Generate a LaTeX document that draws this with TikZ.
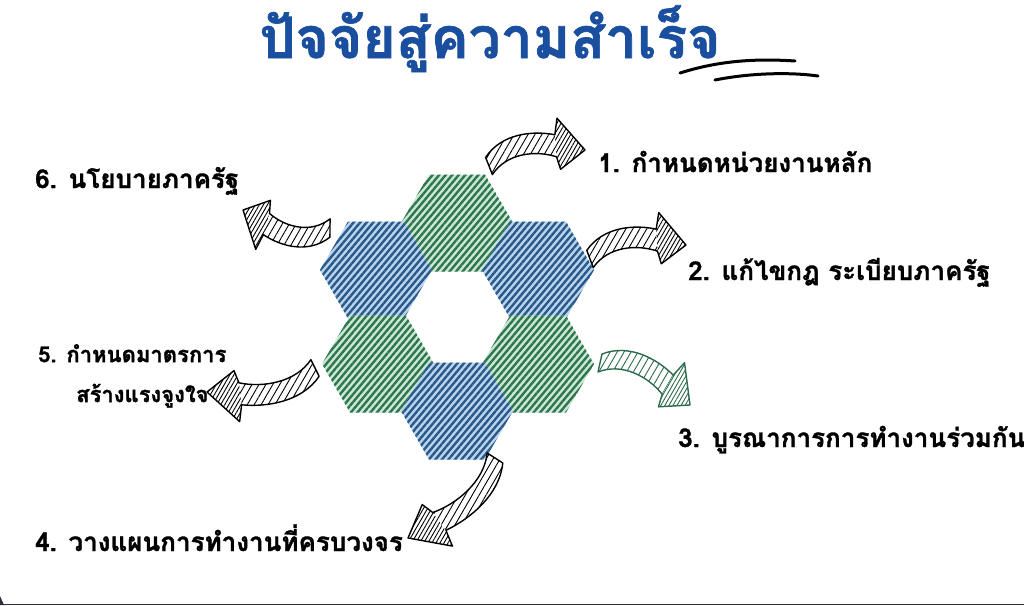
\documentclass[tikz,border=0pt]{standalone}
\usepackage{fontspec}
\newfontfamily\thai[Script=Thai, BoldFeatures={FakeBold=1.2}]{Loma}
\usetikzlibrary{patterns.meta,calc,shapes.geometric}
\definecolor{titleblue}{HTML}{1A4FA0}
\definecolor{greenlight}{HTML}{CDE8D4}
\definecolor{greendark}{HTML}{2E7650}
\definecolor{bluelight}{HTML}{BBD5EC}
\definecolor{bluedark}{HTML}{28598A}
\definecolor{arrgreen}{HTML}{2E6B4D}
\definecolor{edgedark}{HTML}{2B2F3A}
\tikzset{
  hexbase/.style={regular polygon, regular polygon sides=6, minimum size=112pt, inner sep=0pt, draw=none},
  greenhex/.style={hexbase, preaction={fill=greenlight}, pattern={Lines[angle=50,distance=5pt,line width=2.4pt]}, pattern color=greendark},
  bluehex/.style={hexbase, preaction={fill=bluelight}, pattern={Lines[angle=50,distance=5pt,line width=2.4pt]}, pattern color=bluedark},
  lab/.style={font=\thai\bfseries\fontsize{26pt}{40pt}\selectfont, inner sep=0pt, text=black},
  smalllab/.style={font=\thai\bfseries\fontsize{22pt}{40pt}\selectfont, inner sep=0pt, text=black},
  titlestyle/.style={font=\thai\bfseries\fontsize{57pt}{60pt}\selectfont, inner sep=0pt, text=titleblue},
  brush/.style={line width=3pt, line cap=round, black},
  pics/barrow/.style={code={
    \fill[pattern={Lines[angle=60,distance=6pt,line width=0.9pt]}, pattern color=#1]
      (-2,-9) .. controls (18,-30) and (50,-28) .. (72,-20) -- (70,2)
      .. controls (50,-8) and (20,-10) .. (2,9) -- cycle;
    \fill[pattern={Lines[angle=60,distance=3.5pt,line width=0.9pt]}, pattern color=#1]
      (72,-20) -- (77,-36) -- (100,0) -- (72,15) -- (70,2) -- cycle;
    \draw[line width=1.4pt, #1, line join=round]
      (-2,-9) .. controls (18,-30) and (50,-28) .. (72,-20) -- (77,-36)
      -- (100,0) -- (72,15) -- (70,2)
      .. controls (50,-8) and (20,-10) .. (2,9) -- cycle;
  }}
}
\newcommand{\placearrow}[3]{%
  \path let \p1=($(#2)-(#1)$), \n1={atan2(\y1,\x1)}, \n2={veclen(\x1,\y1)} in
    (#1) pic[rotate=\n1, xscale=\n2/100] {barrow=#3};}
\begin{document}
\begin{tikzpicture}[x=1pt,y=-1pt]
\useasboundingbox (0,0) rectangle (1024,605);
\fill[white] (0,0) rectangle (1024,605);

% title
\node[titlestyle, anchor=base] (title) at (490,58) {ปัจจัยสู่ความสำเร็จ};
\coordinate (s1a) at (680,73);
\coordinate (s1b) at (795,61);
\coordinate (s2a) at (715,80);
\coordinate (s2b) at (818,76);
\draw[brush] (s1a) .. controls (715,62) and (750,58) .. (s1b);
\draw[brush] (s2a) .. controls (750,73) and (790,72) .. (s2b);

% hexagons
\node[greenhex] (h1) at (457,223) {};
\node[bluehex]  (h6) at (376,270) {};
\node[bluehex]  (h2) at (538,270) {};
\node[greenhex] (h5) at (378,364) {};
\node[greenhex] (h3) at (538,364) {};
\node[bluehex]  (h4) at (457,411) {};

% labels
\node[lab, anchor=base west] (l1) at (598,172) {1. กำหนดหน่วยงานหลัก};
\node[lab, anchor=base west] (l2) at (688,280) {2. แก้ไขกฎ ระเบียบภาครัฐ};
\node[lab, anchor=base west] (l3) at (678,447) {3. บูรณาการการทำงานร่วมกัน};
\node[lab, anchor=base west] (l4) at (35,551) {4. วางแผนการทำงานที่ครบวงจร};
\node[smalllab, anchor=north west, align=left] (l5) at (38,344) {5. กำหนดมาตรการ\\\hspace*{38pt}สร้างแรงจูงใจ};
\node[lab, anchor=base west] (l6) at (35,188) {6. นโยบายภาครัฐ};

% arrows
\coordinate (a1t) at (489,166); \coordinate (a1h) at (585,150);
\coordinate (a2t) at (590,259); \coordinate (a2h) at (686,245);
\coordinate (a3t) at (600,363); \coordinate (a3h) at (690,405);
\coordinate (a4t) at (495,458); \coordinate (a4h) at (408,538);
\coordinate (a5t) at (315,368); \coordinate (a5h) at (207,392);
\coordinate (a6t) at (330,228); \coordinate (a6h) at (243,210);
\placearrow{a1t}{a1h}{black}
\placearrow{a2t}{a2h}{black}
\placearrow{a3t}{a3h}{arrgreen}
\placearrow{a4t}{a4h}{black}
\placearrow{a5t}{a5h}{black}
\placearrow{a6t}{a6h}{black}

% bottom edge
\fill[edgedark] (0,603.5) rectangle (1024,605);
\fill[edgedark] (0,596) -- (4,605) -- (0,605) -- cycle;
\end{tikzpicture}
\end{document}
